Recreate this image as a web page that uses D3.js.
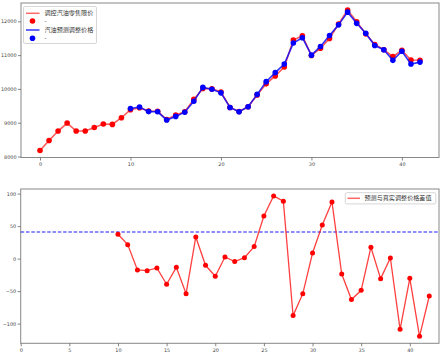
<!DOCTYPE html>
<html><head><meta charset="utf-8">
<script src="https://cdn.jsdelivr.net/npm/d3@7"></script>
<style>body{margin:0;background:#fff}svg{display:block}</style>
</head><body>
<svg id="c" width="444" height="358"></svg>
<script>
// ---- data ----
const actualX = d3.range(0, 43);
const actualPrice = [8178,8474,8753,8990,8753,8753,8860,8960,8950,9147,
  9383,9443,9345,9340,9095,9226,9324,9690,10012,10000,
  9910,9450,9328,9470,9820,10150,10385,10649,11445,11570,
  10990,11205,11495,11920,12335,11990,11630,11315,11160,10955,
  11145,10855,10850];
const predX = d3.range(10, 43);
const predPrice = [9420,9464,9328,9322,9081,9186,9311,9636,10045,9990,
  9883,9452,9323,9472,9838,10215,10481,10737,11357,11516,
  10999,11257,11582,11896,12272,11941,11647,11284,11161,10846,
  11115,10736,10793];
const diffX = d3.range(10, 43);
const diffValues = [37.4,21.5,-17.5,-18.5,-14.4,-39.5,-13.4,-53.9,33.3,-10.3,
  -27.2,2.5,-4.6,1.5,18.5,65.5,96.3,88.2,-87.7,-53.9,
  8.6,51.7,87.1,-23.7,-63,-48.8,17.4,-30.8,1,-108.8,
  -30.3,-119.5,-57.5];
const topXTicks = [0,10,20,30,40];
const topYTicks = [8000,9000,10000,11000,12000];
const botXTicks = [0,5,10,15,20,25,30,35,40];
const botYTicks = [-100,-50,0,50,100];
const legendTop = ["调控汽油零售限价","-","汽油预测调整价格","-"];
const legendBottom = "预测与真实调整价格差值";

const svg = d3.select("#c");
const tickFont = "DejaVu Sans, sans-serif";
const cjkFont = "'Noto Sans CJK SC', sans-serif";
const tickSize = 4.9;

function pad(ext){const r=ext[1]-ext[0];return [ext[0]-r*0.05, ext[1]+r*0.05];}

function frame(g, x0, x1, y0, y1){
  g.append("rect").attr("x",x0).attr("y",y0).attr("width",x1-x0).attr("height",y1-y0)
   .attr("fill","none").attr("stroke","#888").attr("stroke-width",1);
}
function axes(g, x, y, xt, yt, x0, y1){
  const ax = d3.axisBottom(x).tickValues(xt).tickSize(3).tickPadding(2).tickFormat(d3.format("d"));
  const gx = g.append("g").attr("transform",`translate(0,${y1})`).call(ax);
  const ay = d3.axisLeft(y).tickValues(yt).tickSize(3).tickPadding(1.5).tickFormat(d3.format("d"));
  const gy = g.append("g").attr("transform",`translate(${x0},0)`).call(ay);
  [gx,gy].forEach(a=>{
    a.select(".domain").remove();
    a.selectAll("line").attr("stroke","#666").attr("stroke-width",0.8);
    a.selectAll("text").attr("fill","#444").style("font-family",tickFont).style("font-size",tickSize+"px");
  });
}

// ---- top chart ----
const T = {l:21, r:439, t:3, b:157.5};
const xT = d3.scaleLinear().domain(pad([0,42])).range([T.l,T.r]);
const allTop = actualPrice.concat(predPrice);
const yT = d3.scaleLinear().domain(pad(d3.extent(allTop))).range([T.b,T.t]);
const gT = svg.append("g");
frame(gT, T.l, T.r, T.t, T.b);
axes(gT, xT, yT, topXTicks, topYTicks, T.l, T.b);

const lineT = (xs)=>d3.line().x((d,i)=>xT(xs[i])).y(d=>yT(d));
gT.append("path").datum(actualPrice).attr("d",lineT(actualX))
  .attr("fill","none").attr("stroke","red").attr("stroke-opacity",0.65).attr("stroke-width",1.6);
gT.selectAll(".ra").data(actualPrice).enter().append("circle")
  .attr("cx",(d,i)=>xT(actualX[i])).attr("cy",d=>yT(d)).attr("r",2.8).attr("fill","red");
gT.append("path").datum(predPrice).attr("d",lineT(predX))
  .attr("fill","none").attr("stroke","blue").attr("stroke-opacity",0.8).attr("stroke-width",1.6);
gT.selectAll(".bp").data(predPrice).enter().append("circle")
  .attr("cx",(d,i)=>xT(predX[i])).attr("cy",d=>yT(d)).attr("r",2.8).attr("fill","blue");

// legend top
const lg = gT.append("g");
lg.append("rect").attr("x",23.5).attr("y",6.5).attr("width",73).attr("height",37).attr("rx",1.5)
  .attr("fill","#fff").attr("fill-opacity",0.8).attr("stroke","#ccc").attr("stroke-width",0.8);
const rowsY = [13.3,21,30,38.3];
lg.append("line").attr("x1",26).attr("x2",39.5).attr("y1",rowsY[0]).attr("y2",rowsY[0])
  .attr("stroke","red").attr("stroke-opacity",0.6).attr("stroke-width",1.5);
lg.append("circle").attr("cx",32.5).attr("cy",rowsY[1]).attr("r",2.8).attr("fill","red");
lg.append("line").attr("x1",26).attr("x2",39.5).attr("y1",rowsY[2]).attr("y2",rowsY[2])
  .attr("stroke","blue").attr("stroke-opacity",0.8).attr("stroke-width",1.5);
lg.append("circle").attr("cx",32.5).attr("cy",rowsY[3]).attr("r",2.8).attr("fill","blue");
legendTop.forEach((t,i)=>{
  lg.append("text").attr("x",44.5).attr("y",rowsY[i]).attr("dy","0.35em")
    .style("font-family",cjkFont).style("font-size","6.1px").attr("fill","#333").text(t);
});

// ---- bottom chart ----
const B = {l:20.7, r:439, t:189, b:343.3};
const xB = d3.scaleLinear().domain([0,43]).range([B.l,B.r]);
const yB = d3.scaleLinear().domain(pad(d3.extent(diffValues))).range([B.b,B.t]);
const gB = svg.append("g");
frame(gB, B.l, B.r, B.t, B.b);
axes(gB, xB, yB, botXTicks, botYTicks, B.l, B.b);

const mae = d3.mean(diffValues, d=>Math.abs(d));
gB.append("line").attr("x1",B.l).attr("x2",B.r).attr("y1",yB(mae)).attr("y2",yB(mae))
  .attr("stroke","blue").attr("stroke-opacity",0.6).attr("stroke-width",1.5).attr("stroke-dasharray","3.5,1.8");
gB.append("path").datum(diffValues)
  .attr("d",d3.line().x((d,i)=>xB(diffX[i])).y(d=>yB(d)))
  .attr("fill","none").attr("stroke","red").attr("stroke-opacity",0.75).attr("stroke-width",1.3);
gB.selectAll(".dd").data(diffValues).enter().append("circle")
  .attr("cx",(d,i)=>xB(diffX[i])).attr("cy",d=>yB(d)).attr("r",2.5).attr("fill","red");

const lb = gB.append("g");
lb.append("rect").attr("x",345.3).attr("y",192.7).attr("width",90.5).attr("height",11.2).attr("rx",1.5)
  .attr("fill","#fff").attr("fill-opacity",0.8).attr("stroke","#ccc").attr("stroke-width",0.8);
lb.append("line").attr("x1",347.5).attr("x2",360).attr("y1",198.3).attr("y2",198.3)
  .attr("stroke","red").attr("stroke-opacity",0.6).attr("stroke-width",1.5);
lb.append("text").attr("x",364.5).attr("y",198.3).attr("dy","0.35em")
  .style("font-family",cjkFont).style("font-size","6.1px").attr("fill","#333").text(legendBottom);
</script>
</body></html>
